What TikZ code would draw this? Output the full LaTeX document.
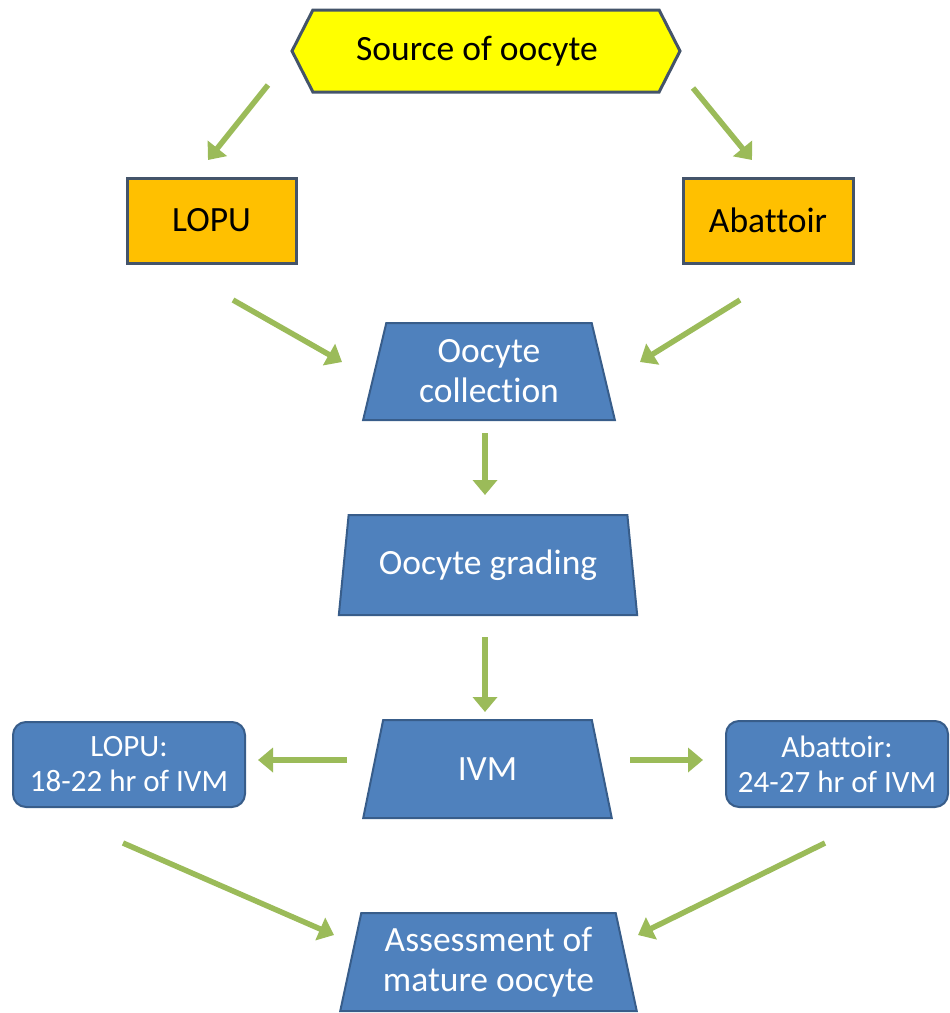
\documentclass[tikz,border=0pt]{standalone}
\usepackage{fontspec}
\setmainfont{Carlito}[Ligatures=NoCommon]
\usetikzlibrary{shapes.geometric,shapes.symbols,arrows.meta}
\definecolor{hexyellow}{HTML}{FFFF00}
\definecolor{boxorange}{HTML}{FFC000}
\definecolor{boxblue}{HTML}{4F81BD}
\definecolor{edgeblue}{HTML}{385D8A}
\definecolor{edgeslate}{HTML}{44546A}
\definecolor{arrowgreen}{HTML}{9BBB59}
\tikzset{
  srcbox/.style={signal, signal to=west and east, signal pointer angle=126,
    draw=edgeslate, line width=3pt, fill=hexyellow, minimum width=388pt, minimum height=82pt,
    inner sep=0pt, font=\fontsize{35.5}{40}\selectfont, text=black},
  orangebox/.style={rectangle, draw=edgeslate, line width=3pt, fill=boxorange,
    minimum width=169pt, minimum height=85pt, inner sep=0pt,
    font=\fontsize{35.5}{40}\selectfont, text=black},
  trapbox/.style={trapezium, trapezium stretches=true, trapezium left angle=76, trapezium right angle=76,
    draw=edgeblue, line width=2pt, fill=boxblue, inner sep=0pt, align=center,
    font=\fontsize{35.5}{40}\selectfont, text=white},
  roundbox/.style={rectangle, rounded corners=13pt, draw=edgeblue, line width=2pt, fill=boxblue,
    inner sep=0pt, align=center, font=\fontsize{31}{35}\selectfont, text=white},
  flowarrow/.style={draw=arrowgreen, line width=5.5pt, -{Triangle[length=15pt,width=24pt]}}
}
\begin{document}
\begin{tikzpicture}[x=1pt,y=-1pt]
\useasboundingbox (0,0) rectangle (950,1013);
\node[srcbox] (src) at (486,51) {\hspace*{-18pt}Source of oocyte};
\node[orangebox] (lopu) at (211.5,220.5) {LOPU};
\node[orangebox, minimum width=170pt] (abat) at (768,220.5) {Abattoir};
\node[trapbox, minimum width=252pt, minimum height=97pt] (coll) at (489,371.5) {Oocyte\\collection};
\node[trapbox, minimum width=299pt, minimum height=100pt] (grad) at (488,565) {Oocyte grading};
\node[trapbox, minimum width=249pt, minimum height=98pt] (ivm) at (487.5,769) {IVM};
\node[roundbox, minimum width=232pt, minimum height=85pt] (lopuivm) at (129,764.5) {LOPU:\\18-22 hr of IVM};
\node[roundbox, minimum width=222pt, minimum height=86pt] (abativm) at (837,764) {Abattoir:\\24-27 hr of IVM};
\node[trapbox, minimum width=297pt, minimum height=98pt] (assess) at (488.5,962) {Assessment of\\mature oocyte};

\coordinate (a1s) at (268,85);  \coordinate (a1e) at (208,160);
\coordinate (a2s) at (693,88);  \coordinate (a2e) at (752,160);
\coordinate (a3s) at (233,300); \coordinate (a3e) at (342,362);
\coordinate (a4s) at (740,300); \coordinate (a4e) at (640,362);
\coordinate (a5s) at (485,433); \coordinate (a5e) at (485,495);
\coordinate (a6s) at (485,637); \coordinate (a6e) at (485,712);
\coordinate (a7s) at (347,760); \coordinate (a7e) at (258,760);
\coordinate (a8s) at (630,760); \coordinate (a8e) at (703,760);
\coordinate (a9s) at (123,843); \coordinate (a9e) at (334,935);
\coordinate (a10s) at (825,843); \coordinate (a10e) at (638,935);

\draw[flowarrow] (a1s) -- (a1e);
\draw[flowarrow] (a2s) -- (a2e);
\draw[flowarrow] (a3s) -- (a3e);
\draw[flowarrow] (a4s) -- (a4e);
\draw[flowarrow] (a5s) -- (a5e);
\draw[flowarrow] (a6s) -- (a6e);
\draw[flowarrow] (a7s) -- (a7e);
\draw[flowarrow] (a8s) -- (a8e);
\draw[flowarrow] (a9s) -- (a9e);
\draw[flowarrow] (a10s) -- (a10e);
\end{tikzpicture}
\end{document}
